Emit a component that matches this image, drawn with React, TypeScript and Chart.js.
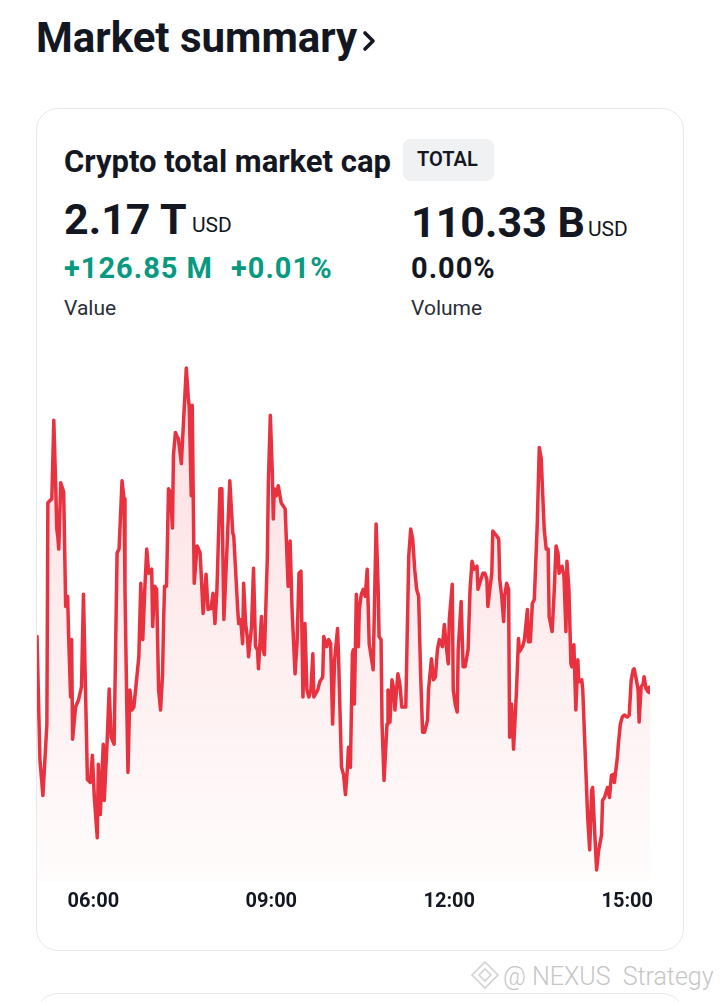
import React, { useEffect, useRef } from "react";
import { Chart, registerables } from "chart.js";

Chart.register(...registerables);

// Time of each sample, minutes since midnight
const TIMES = [
  303, 306, 309, 313, 314, 318, 320, 322, 323, 324, 325, 327, 329, 330, 332, 334, 335, 337, 338, 339,
  342, 345, 348, 350, 352, 354, 357, 359, 361, 364, 365, 367, 370, 371, 374, 376, 378, 381, 384, 386,
  389, 391, 392, 394, 395, 397, 399, 401, 406, 408, 410, 412, 414, 416, 419, 420, 422, 424, 426, 428,
  430, 431, 432, 434, 436, 438, 440, 441, 443, 445, 446, 449, 451, 454, 456, 457, 459, 460, 462, 465,
  466, 468, 471, 474, 476, 479, 481, 483, 485, 488, 490, 492, 496, 498, 501, 502, 506, 507, 509, 511,
  512, 514, 516, 517, 520, 522, 524, 526, 527, 530, 531, 533, 536, 537, 539, 541, 542, 543, 545, 547,
  550, 552, 554, 557, 559, 561, 564, 566, 568, 570, 572, 574, 576, 578, 580, 582, 583, 587, 589, 592,
  593, 596, 598, 600, 602, 604, 607, 608, 611, 613, 615, 617, 618, 620, 622, 623, 624, 626, 628, 629,
  631, 633, 635, 637, 639, 641, 643, 646, 648, 649, 651, 652, 654, 657, 658, 660, 662, 664, 665, 668,
  670, 672, 676, 679, 681, 683, 685, 687, 689, 691, 693, 695, 698, 699, 702, 704, 706, 708, 710, 713,
  715, 717, 719, 720, 723, 724, 726, 728, 729, 732, 734, 736, 739, 741, 743, 745, 748, 749, 752, 754,
  756, 758, 759, 761, 763, 764, 768, 770, 771, 773, 775, 776, 778, 780, 781, 783, 785, 788, 790, 791,
  794, 796, 799, 800, 802, 804, 806, 809, 811, 813, 814, 816, 818, 820, 821, 824, 826, 828, 830, 831,
  834, 836, 838, 839, 841, 843, 844, 846, 848, 850, 851, 854, 855, 858, 860, 862, 864, 865, 867, 869,
  871, 874, 875, 877, 880, 882, 884, 886, 887, 890, 891, 893, 895, 897, 900, 902, 904, 906, 907, 909,
  911, 912, 914, 916, 917, 919, 923,
];

// Crypto total market cap, billions of USD
const MARKET_CAP_B = [
  2175.3, 2163.0, 2159.5, 2166.6, 2188.6, 2189.0, 2196.8, 2190.0, 2186.0, 2185.3, 2184.0, 2190.6, 2190.0, 2189.6, 2178.3, 2179.3, 2175.3, 2169.3, 2175.0, 2165.1,
  2168.3, 2169.0, 2170.3, 2179.5, 2170.3, 2161.1, 2160.8, 2163.5, 2159.3, 2155.3, 2162.6, 2157.6, 2164.6, 2159.0, 2165.0, 2170.1, 2165.3, 2164.6, 2183.6, 2184.0,
  2190.8, 2189.0, 2180.0, 2167.3, 2161.8, 2170.0, 2168.0, 2168.3, 2173.3, 2180.6, 2175.0, 2180.0, 2184.0, 2181.6, 2182.0, 2176.3, 2180.3, 2180.0, 2170.0, 2168.0,
  2171.6, 2176.6, 2180.3, 2180.3, 2190.0, 2189.6, 2186.1, 2193.3, 2195.6, 2195.1, 2195.0, 2192.5, 2196.3, 2202.0, 2199.1, 2198.1, 2189.3, 2198.3, 2180.6, 2184.3,
  2184.1, 2183.6, 2177.6, 2181.5, 2178.0, 2178.1, 2179.6, 2176.6, 2180.0, 2190.0, 2190.0, 2177.0, 2186.0, 2190.8, 2185.6, 2185.3, 2178.0, 2176.6, 2177.0, 2174.6,
  2180.6, 2176.6, 2175.0, 2173.3, 2176.3, 2182.1, 2174.3, 2174.0, 2172.1, 2177.3, 2174.3, 2173.5, 2183.3, 2190.6, 2197.3, 2191.6, 2187.0, 2190.0, 2189.3, 2190.3,
  2188.6, 2188.3, 2188.0, 2180.3, 2184.8, 2178.0, 2171.6, 2174.6, 2181.6, 2181.8, 2169.3, 2176.6, 2170.0, 2169.3, 2170.0, 2173.6, 2169.3, 2170.0, 2170.8, 2171.3,
  2175.3, 2174.3, 2175.0, 2174.6, 2166.6, 2173.0, 2176.1, 2173.3, 2162.3, 2161.6, 2159.6, 2162.3, 2164.3, 2162.3, 2173.6, 2174.0, 2168.6, 2179.5, 2174.3, 2178.0,
  2179.5, 2180.0, 2179.3, 2182.0, 2174.6, 2173.3, 2172.0, 2186.5, 2180.3, 2175.3, 2175.0, 2166.6, 2161.0, 2166.6, 2170.0, 2166.8, 2171.0, 2170.0, 2168.0, 2171.6,
  2170.6, 2168.3, 2168.3, 2183.3, 2186.0, 2185.0, 2182.0, 2180.0, 2179.3, 2171.6, 2165.8, 2165.8, 2167.0, 2170.0, 2173.1, 2171.0, 2171.3, 2174.0, 2175.0, 2174.3,
  2176.5, 2174.3, 2172.6, 2177.0, 2180.5, 2170.0, 2168.6, 2167.8, 2174.0, 2178.8, 2172.3, 2172.3, 2174.0, 2180.0, 2182.8, 2182.0, 2182.3, 2180.0, 2181.0, 2181.6,
  2181.6, 2181.0, 2178.3, 2180.0, 2181.6, 2185.8, 2185.3, 2185.0, 2181.0, 2179.3, 2176.8, 2179.3, 2180.6, 2180.0, 2165.3, 2168.6, 2164.1, 2170.0, 2175.1, 2173.8,
  2174.3, 2175.0, 2178.0, 2174.8, 2174.8, 2178.6, 2179.0, 2186.6, 2194.1, 2193.0, 2190.6, 2186.0, 2184.0, 2184.0, 2177.3, 2175.8, 2179.6, 2184.3, 2183.6, 2181.6,
  2182.3, 2181.3, 2175.8, 2182.8, 2180.0, 2172.6, 2172.3, 2174.5, 2168.0, 2173.0, 2170.8, 2171.0, 2170.0, 2162.3, 2157.3, 2154.1, 2160.0, 2160.3, 2156.0, 2152.1,
  2154.0, 2155.6, 2159.0, 2159.3, 2160.3, 2159.3, 2161.5, 2161.6, 2160.8, 2163.3, 2164.6, 2166.6, 2167.3, 2167.5, 2167.3, 2167.5, 2171.0, 2172.0, 2172.1, 2171.1,
  2170.0, 2166.8, 2170.3, 2170.6, 2171.3, 2170.1, 2170.0,
];

const TICK_MINUTES = [360, 540, 720, 900];
const TICK_LABELS = ["06:00", "09:00", "12:00", "15:00"];

const LINE_COLOR = "#E8323F";
const FONT = "Roboto, 'Noto Sans', sans-serif";

type TextProps = {
  x: number;
  baseline: number;
  size: number;
  weight?: number;
  color?: string;
  spacing?: number;
  children: React.ReactNode;
};

function Txt({ x, baseline, size, weight = 400, color = "#131722", spacing = 0, children }: TextProps) {
  return (
    <div
      style={{
        position: "absolute",
        left: x,
        top: baseline - 0.842 * size,
        fontSize: size,
        lineHeight: `${size}px`,
        fontWeight: weight,
        color,
        letterSpacing: spacing,
        whiteSpace: "nowrap",
        fontFamily: FONT,
      }}
    >
      {children}
    </div>
  );
}

function MarketChart() {
  const ref = useRef<HTMLCanvasElement | null>(null);
  useEffect(() => {
    if (!ref.current) return;
    const points = TIMES.map((t, i) => ({ x: t, y: MARKET_CAP_B[i] }));
    const chart = new Chart(ref.current, {
      type: "line",
      data: {
        datasets: [
          {
            data: points,
            borderColor: LINE_COLOR,
            borderWidth: 3.5,
            borderJoinStyle: "round",
            borderCapStyle: "round",
            tension: 0,
            fill: "start",
            backgroundColor: (ctx: any) => {
              const c = ctx.chart;
              const area = c.chartArea;
              if (!area) return "rgba(242,54,69,0.1)";
              const g = c.ctx.createLinearGradient(0, area.top, 0, area.bottom);
              g.addColorStop(0, "rgba(242,54,69,0.17)");
              g.addColorStop(1, "rgba(242,54,69,0.015)");
              return g;
            },
            pointRadius: (ctx: any) => (ctx.dataIndex === MARKET_CAP_B.length - 1 ? 4.5 : 0),
            pointBackgroundColor: LINE_COLOR,
            pointBorderWidth: 0,
            pointHoverRadius: 0,
          },
        ],
      },
      options: {
        animation: false,
        responsive: false,
        maintainAspectRatio: false,
        layout: { padding: { left: 17, right: 50, top: 18, bottom: 9 } },
        plugins: { legend: { display: false }, tooltip: { enabled: false } },
        events: [],
        scales: {
          x: {
            type: "linear",
            min: TIMES[0],
            max: TIMES[TIMES.length - 1],
            afterBuildTicks: (axis: any) => {
              axis.ticks = TICK_MINUTES.map((v) => ({ value: v }));
            },
            ticks: {
              autoSkip: false,
              maxRotation: 0,
              padding: 9,
              color: "#131722",
              font: { family: "Roboto", size: 20, weight: "bold", lineHeight: 1.2 },
              callback: (v: any) => {
                const i = TICK_MINUTES.indexOf(Number(v));
                return i >= 0 ? TICK_LABELS[i] : "";
              },
            },
            grid: { display: false, drawTicks: false },
            border: { display: false },
          },
          y: {
            display: false,
            min: 2151,
            max: 2203,
          },
        },
      },
    } as any);
    return () => chart.destroy();
  }, []);
  return (
    <canvas
      ref={ref}
      width={680}
      height={592}
      style={{ position: "absolute", left: 20, top: 340, width: 680, height: 592 }}
    />
  );
}

export default function App() {
  return (
    <div
      style={{
        position: "absolute",
        left: 0,
        top: 0,
        width: 720,
        height: 1002,
        overflow: "hidden",
        background: "#ffffff",
        fontFamily: FONT,
      }}
    >
      <Txt x={36} baseline={52} size={42} weight={700}>
        Market summary
      </Txt>
      <svg style={{ position: "absolute", left: 361, top: 29 }} width={16} height={24} viewBox="0 0 16 24">
        <polyline points="4,4 12,12 4,20" fill="none" stroke="#131722" strokeWidth={3.6} strokeLinecap="round" strokeLinejoin="round" />
      </svg>

      <div
        style={{
          position: "absolute",
          left: 36,
          top: 108,
          width: 648,
          height: 843,
          border: "1px solid #e8e8ea",
          borderRadius: 22,
          boxSizing: "border-box",
        }}
      />

      <Txt x={64} baseline={172} size={31} weight={700}>
        Crypto total market cap
      </Txt>
      <div
        style={{
          position: "absolute",
          left: 403,
          top: 139,
          width: 91,
          height: 42,
          background: "#f0f1f3",
          borderRadius: 8,
        }}
      />
      <Txt x={417} baseline={166} size={20} weight={600}>
        TOTAL
      </Txt>

      <Txt x={64} baseline={234} size={43} weight={700}>
        2.17 T
      </Txt>
      <Txt x={192} baseline={233} size={21}>
        USD
      </Txt>
      <Txt x={411} baseline={237} size={43} weight={700}>
        110.33 B
      </Txt>
      <Txt x={588} baseline={237} size={21}>
        USD
      </Txt>

      <Txt x={64} baseline={278} size={29} weight={700} color="#089981" spacing={1}>
        +126.85 M
      </Txt>
      <Txt x={231} baseline={278} size={29} weight={700} color="#089981" spacing={1}>
        +0.01%
      </Txt>
      <Txt x={411} baseline={278} size={29} weight={700} spacing={1}>
        0.00%
      </Txt>

      <Txt x={64} baseline={316} size={21} color="#2a2e39">
        Value
      </Txt>
      <Txt x={411} baseline={316} size={21} color="#2a2e39">
        Volume
      </Txt>

      <MarketChart />

      <svg style={{ position: "absolute", left: 470, top: 960 }} width={30} height={30} viewBox="0 0 30 30">
        <polygon points="15,2 28,15 15,28 2,15" fill="none" stroke="#d2d2d2" strokeWidth={1.6} />
        <polygon points="15,9 21,15 15,21 9,15" fill="none" stroke="#d2d2d2" strokeWidth={1.6} />
      </svg>
      <Txt x={503} baseline={985} size={25} weight={300} color="#c6c6c6">
        @ NEXUS&nbsp; Strategy
      </Txt>

      <div
        style={{
          position: "absolute",
          left: 36,
          top: 993,
          width: 648,
          height: 80,
          border: "1px solid #e8e8ea",
          borderRadius: 22,
          boxSizing: "border-box",
        }}
      />
    </div>
  );
}
